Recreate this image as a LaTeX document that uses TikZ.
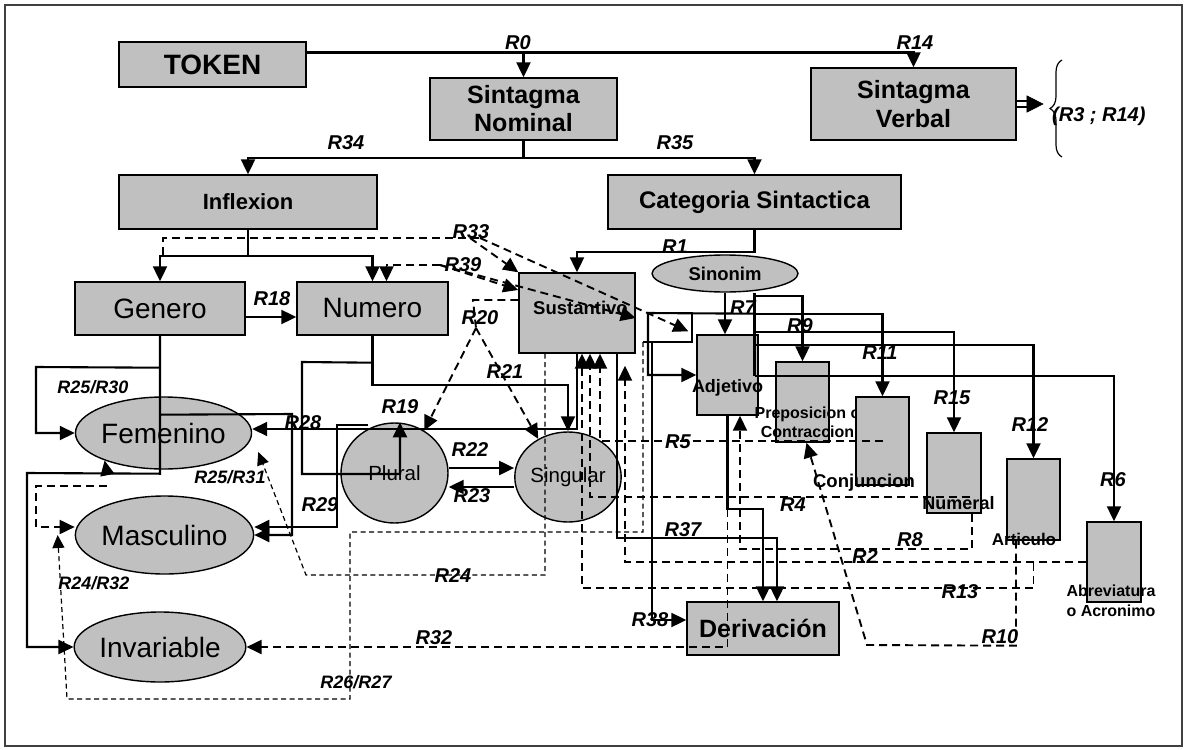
\documentclass[tikz,border=0pt]{standalone}
\usepackage{fontspec}
\setmainfont{Liberation Sans}
\usetikzlibrary{arrows.meta,shapes.geometric,decorations.pathreplacing}
\pgfdeclarelayer{edgelayer}
\pgfdeclarelayer{nodelayer}
\pgfsetlayers{nodelayer,edgelayer,main}
\definecolor{boxgray}{RGB}{192,192,192}
\newcommand{\fsz}[2]{\fontsize{#1}{#2}\selectfont}
\tikzstyle{box}=[rectangle, fill=boxgray, draw=black, line width=1.4pt, inner sep=0pt]
\tikzstyle{oval}=[ellipse, fill=boxgray, draw=black, line width=1.4pt, inner sep=0pt]
\tikzstyle{wire}=[draw=black, line width=2.1pt]
\tikzstyle{warr}=[wire, -{Triangle[length=15pt,width=14pt]}]
\tikzstyle{dwire}=[draw=black, line width=1.9pt, dash pattern=on 8pt off 5pt]
\tikzstyle{dwarr}=[dwire, -{Triangle[length=15pt,width=14pt]}]
\tikzstyle{twire}=[draw=black, line width=1.2pt, dash pattern=on 5pt off 3.5pt]
\tikzstyle{twarr}=[twire, -{Triangle[length=13pt,width=12pt]}]
\tikzstyle{rule}=[font=\fsz{20}{20}\bfseries\itshape, inner sep=0pt]
\tikzstyle{rules}=[font=\fsz{18}{18}\bfseries\itshape, inner sep=0pt]

\begin{document}
\begin{tikzpicture}[x=1pt,y=-1pt]
	\useasboundingbox (0,0) rectangle (1187,750);
	\draw [line width=1.3pt, draw=black!75] (5,5) rectangle (1182,746);
	\begin{pgfonlayer}{nodelayer}
		\node [style=box, minimum width=187pt, minimum height=45pt, font=\fsz{28}{28}\bfseries] (0) at (212.5, 64.5) {TOKEN};
		\node [style=box, minimum width=187pt, minimum height=62pt, font=\fsz{25}{28}\bfseries, align=center] (1) at (523.5, 109) {Sintagma\\Nominal};
		\node [style=box, minimum width=205pt, minimum height=72pt, font=\fsz{25}{29}\bfseries, align=center] (2) at (913.5, 104) {Sintagma\\Verbal};
		\node [style=box, minimum width=258pt, minimum height=54pt, font=\fsz{22}{22}\bfseries] (3) at (248, 202) {Inflexion};
		\node [style=box, minimum width=293pt, minimum height=54pt, font=\fsz{24}{24}\bfseries] (4) at (754.5, 202) {Categoria Sintactica};
		\node [style=box, minimum width=170pt, minimum height=53pt, font=\fsz{28}{28}] (5) at (160, 308.5) {Genero};
		\node [style=box, minimum width=151pt, minimum height=53pt, font=\fsz{28}{28}] (6) at (372.5, 308.5) {Numero};
		\node [style=box, minimum width=116pt, minimum height=80pt, label={[font=\fsz{18.5}{18.5}\bfseries, xshift=3.5pt, yshift=5pt]center:Sustantivo}] (7) at (577, 313) {};
		\node [style=oval, minimum width=146pt, minimum height=37pt, font=\fsz{18.5}{18.5}\bfseries] (8) at (725, 273.5) {Sinonim};
		\node [style=box, minimum width=61pt, minimum height=80pt, label={[font=\fsz{18}{18}\bfseries, yshift=-13pt]center:Adjetivo}] (9) at (727.5, 375) {};
		\node [style=box, minimum width=53pt, minimum height=80pt, label={[font=\fsz{16}{19}\bfseries, align=center, xshift=5pt, yshift=-20.5pt]center:{Preposicion o\\Contraccion}}] (10) at (802.5, 402) {};
		\node [style=box, minimum width=53pt, minimum height=88pt, label={[font=\fsz{18.5}{18.5}\bfseries, xshift=-18.5pt, yshift=-42pt]center:Conjuncion}] (11) at (882.5, 441) {};
		\node [style=box, minimum width=54pt, minimum height=80pt, label={[font=\fsz{18}{18}\bfseries, xshift=4.5pt, yshift=-30pt]center:Numeral}] (12) at (954, 473) {};
		\node [style=box, minimum width=53pt, minimum height=81pt, label={[font=\fsz{17}{17}\bfseries, xshift=-9.5pt, yshift=-39.5pt]center:Articulo}] (13) at (1033.5, 499.5) {};
		\node [style=box, minimum width=54pt, minimum height=80pt, label={[font=\fsz{16}{20}\bfseries, align=center, xshift=-3pt, yshift=-39pt]center:{Abreviatura\\o Acronimo}}] (14) at (1114, 562) {};
		\node [style=box, minimum width=152pt, minimum height=53pt, font=\fsz{25}{25}\bfseries] (15) at (763, 628.5) {Derivación};
		\node [style=oval, minimum width=161pt, minimum height=72pt, font=\fsz{28}{28}] (16) at (163.5, 433) {Femenino};
		\node [style=oval, minimum width=161pt, minimum height=78pt, font=\fsz{28}{28}] (17) at (164.5, 535) {Masculino};
		\node [style=oval, minimum width=170pt, minimum height=70pt, font=\fsz{28}{28}] (18) at (160, 647) {Invariable};
		\node [style=oval, minimum width=107pt, minimum height=100pt, font=\fsz{20.5}{20.5}] (19) at (394.5, 473) {Plural};
		\node [style=oval, minimum width=97pt, minimum height=90pt, font=\fsz{20.5}{20.5}] (20) at (568, 477) {Singular};
	\end{pgfonlayer}
	\coordinate (g1) at (107, 473);
	\coordinate (g2) at (107, 486);
	\coordinate (p1) at (368, 425);
	\coordinate (s1) at (692, 313);
	\coordinate (s2) at (652, 342);
	\coordinate (s3) at (643, 342);
	\coordinate (d33) at (163, 255);
	\coordinate (d39) at (440, 265);
	\coordinate (d20) at (476, 328);
	\begin{pgfonlayer}{edgelayer}
		% token, sintagma, inflexion, categoria
		\draw [style=warr] ([yshift=12pt]0.east) -| (1.north);
		\draw [style=warr] ([yshift=12pt]0.east) -| (2.north);
		\draw [style=warr] (1.south) -- ++(0,17) -| (3.north);
		\draw [style=warr] (1.south) -- ++(0,17) -| (4.north);
		\draw [style=warr] (3.south) -- ++(0,26) -| (5.north);
		\draw [style=warr] (3.south) -- ++(0,26) -| (6.north);
		\draw [style=warr] ([yshift=-8.5pt]5.east) -- ([yshift=-8.5pt]6.west);
		\draw [line width=1.4pt] ([yshift=3pt]2.east) -- ++(12,0) ([yshift=-3pt]2.east) -- ++(12,0);
		\draw [-{Triangle[length=17pt,width=17pt]}, line width=0.5pt] ([xshift=10pt]2.east) -- ([xshift=27pt]2.east);
		\draw [line width=1.2pt, decorate, decoration={brace, amplitude=12pt}] (1062, 157) -- (1062, 60);
		% categoria sintactica
		\draw [style=warr] (4.south) -- ++(0,22) -| (7.north);
		\draw [style=wire] ([yshift=-63pt]4.south) -- ++(0,83);
		\draw [style=warr] ([yshift=-66pt]4.south) -| (10.north);
		\draw [style=warr] ([yshift=-84pt]4.south) -| (11.north);
		\draw [style=warr] ([yshift=-102pt]4.south) -| (12.north);
		\draw [style=warr] ([yshift=-115pt]4.south) -| (13.north);
		\draw [style=warr] ([yshift=-146pt]4.south) -| (14.north);
		\draw [style=warr] (8.south) -- (8.south |- 9.north);
		\draw [style=warr] ([yshift=-84pt]4.south) -- (648, 313) |- (9.west);
		\draw [style=wire] (s1) -- (692, 342) -- (s3);
		\draw [style=warr] (s2) |- ([yshift=8.5pt]15.west);
		\draw [style=warr] ([xshift=40pt]7.south) -- ++(0,184) -| ([xshift=14pt]15.north);
		\draw [style=warr] (9.south) -- ++(0,93) -| (15.north);
		% numero
		\draw [style=warr] (6.south) -- ++(0,49) -| (20.north);
		\draw [style=warr] ([yshift=-27pt]6.south) -- (302, 362) |- (400, 474) -- ([xshift=5.5pt]19.north);
		\draw [style=warr] ([yshift=5pt]19.east) -- ([yshift=9pt]20.west);
		\draw [style=warr] ([yshift=-10pt]20.west) -- ([yshift=-14pt]19.east);
		% genero
		\draw [style=warr] (5.south) -- ++(0,138) -- (27, 473) |- (18.west);
		\draw [style=warr] ([yshift=-32pt]5.south) -- (36, 367) |- (16.west);
		\draw [style=warr] (g1) -- (16.205);
		\draw [style=warr] ([yshift=-79pt]5.south) -- (292, 414) |- (17.east);
		\draw [style=warr] (p1) -- (337, 425) |- ([yshift=8pt]17.east);
		\draw [style=warr] (7.south) |- ([yshift=4pt]16.east);
		% dashed rules
		\draw [style=dwire] (d33) -- (163, 238) -- (480, 238);
		\draw [style=dwarr] (470, 238) -- (7.north west);
		\draw [style=dwarr] (480, 238) -- ([xshift=-8pt, yshift=3pt]9.north west);
		\draw [style=dwarr] (d39) -- (386.5, 265) -- ([xshift=14pt]6.north);
		\draw [style=dwarr] (d39) -- ([yshift=23pt]7.west);
		\draw [style=dwarr] (d39) -- ([yshift=-5pt]7.east);
		\draw [style=dwire] ([yshift=13pt]7.west) -- (473, 300) -- (d20);
		\draw [style=dwarr] (d20) -- (19.55);
		\draw [style=dwarr] (d20) -- (20.128);
		\draw [style=twarr] ([xshift=-32pt]7.south) -- (545, 575) -- (306, 575) -- ([xshift=6pt, yshift=-19pt]16.east);
		\draw [style=twarr] (s3) -- (643, 532) -- (350, 532) -- (350, 699) -- (67, 699) -- ([xshift=-17pt]17.west);
		\draw [style=dwarr] (g2) -- (36, 486) |- ([yshift=8pt]17.west);
		\draw [style=dwarr] ([yshift=-93pt]9.south) |- (18.east);
		\draw [style=dwarr] (11.center) -| ([xshift=23pt]7.south);
		\draw [style=dwarr] ([xshift=16pt, yshift=-24pt]12.center) -| ([xshift=13pt]7.south);
		\draw [style=dwarr] ([xshift=18pt]12.south) -- ++(0,35) -| ([xshift=12.5pt]9.south);
		\draw [style=dwarr] (14.west) -| ([xshift=48pt, yshift=-12pt]7.south);
		\draw [style=dwarr] ([yshift=-22.5pt]13.south) -- ++(0,25) -| ([xshift=5pt]7.south);
		\draw [style=dwarr] ([xshift=-17.5pt]13.south) -- ++(0,105) -- (867, 645) -- ([xshift=4pt]10.south);
	\end{pgfonlayer}
	% rule labels
	\node [style=rule] (r0) at (518, 43) {R0};
	\node [style=rule] (r14) at (915, 43) {R14};
	\node [style=rule, anchor=west] (r3) at (1052, 116) {(R3 ; R14)};
	\node [style=rule] (r34) at (346, 143) {R34};
	\node [style=rule] (r35) at (675, 143) {R35};
	\node [style=rule] (r33) at (471, 232) {R33};
	\node [style=rule] (r39) at (463, 265) {R39};
	\node [style=rule] (r1) at (675, 247) {R1};
	\node [style=rule] (r18) at (272, 299) {R18};
	\node [style=rule] (r20) at (480, 318) {R20};
	\node [style=rule] (r7) at (743, 308) {R7};
	\node [style=rule] (r9) at (800, 326) {R9};
	\node [style=rule] (r11) at (880, 353) {R11};
	\node [style=rule] (r21) at (505, 372) {R21};
	\node [style=rule] (r15) at (952, 398) {R15};
	\node [style=rule] (r12) at (1030, 425) {R12};
	\node [style=rules] (r25a) at (93, 387) {R25/R30};
	\node [style=rule] (r19) at (400, 407) {R19};
	\node [style=rule] (r28) at (303, 423) {R28};
	\node [style=rule] (r22) at (470, 450) {R22};
	\node [style=rule] (r5) at (678, 442) {R5};
	\node [style=rules] (r25b) at (230, 477) {R25/R31};
	\node [style=rule] (r23) at (472, 496) {R23};
	\node [style=rule] (r6) at (1113, 480) {R6};
	\node [style=rule] (r29) at (320, 505) {R29};
	\node [style=rule] (r4) at (793, 505) {R4};
	\node [style=rule] (r8) at (910, 540) {R8};
	\node [style=rule] (r37) at (683, 530) {R37};
	\node [style=rule] (r2) at (865, 557) {R2};
	\node [style=rule] (r13) at (960, 592) {R13};
	\node [style=rule] (r24) at (453, 576) {R24};
	\node [style=rules] (r24b) at (94, 583) {R24/R32};
	\node [style=rule] (r38) at (650, 620) {R38};
	\node [style=rule] (r32) at (434, 638) {R32};
	\node [style=rule] (r10) at (1000, 637) {R10};
	\node [style=rules] (r26) at (356, 682) {R26/R27};
\end{tikzpicture}
\end{document}
